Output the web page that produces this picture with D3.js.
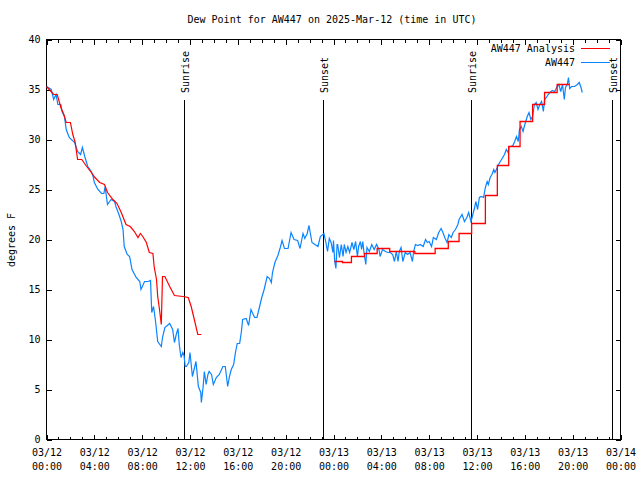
<!DOCTYPE html>
<html><head><meta charset="utf-8">
<script src="https://cdn.jsdelivr.net/npm/d3@7"></script>
<style>
body{margin:0;background:#fff}
svg{display:block}
text{font-family:"DejaVu Sans Mono",monospace;font-size:10px;fill:#000}
</style></head><body>
<svg id="c" width="640" height="480"></svg>
<script>
// ---- data (hours after 2025-03-12 00:00 UTC, dew point in °F) ----
const titleText = "Dew Point for AW447 on 2025-Mar-12 (time in UTC)";
const yLabel = "degrees F";
const seriesNames = ["AW447 Analysis", "AW447"];
const yTicks = [0, 5, 10, 15, 20, 25, 30, 35, 40];

const obsHours = [0.0,0.4,0.6,0.8,0.95,1.2,1.3,1.5,1.65,1.9,2.35,2.6,2.85,3.0,3.2,3.45,3.75,3.9,4.0,4.3,4.6,4.8,4.9,5.1,5.4,5.7,5.8,6.0,6.25,6.4,6.5,6.75,6.95,7.15,7.5,7.8,7.9,8.05,8.2,8.5,8.7,8.8,8.95,9.1,9.3,9.6,9.7,9.9,10.3,10.55,10.7,10.85,11.0,11.1,11.25,11.4,11.5,11.6,11.7,11.9,12.0,12.2,12.5,12.7,12.9,12.95,13.1,13.2,13.35,13.5,13.6,13.8,13.95,14.2,14.45,14.75,14.95,15.15,15.3,15.45,15.65,15.8,15.95,16.15,16.3,16.4,16.7,16.9,17.1,17.4,17.6,17.8,18.0,18.2,18.45,18.65,18.8,18.9,19.1,19.35,19.55,19.7,19.9,20.2,20.45,20.7,21.0,21.2,21.45,21.6,21.8,21.95,22.2,22.45,22.7,22.9,23.2,23.35,23.5,23.65,23.8,23.95,24.0,24.1,24.2,24.3,24.35,24.5,24.65,24.8,24.9,25.05,25.2,25.35,25.55,25.7,25.85,26.0,26.1,26.25,26.35,26.45,26.55,26.7,26.8,27.0,27.2,27.4,27.6,27.8,27.9,28.1,28.35,28.55,28.75,28.95,29.1,29.25,29.4,29.5,29.65,29.8,30.0,30.2,30.4,30.6,30.7,30.85,31.05,31.25,31.5,31.7,31.85,32.0,32.2,32.35,32.6,32.8,33.0,33.15,33.3,33.5,33.65,33.85,34.0,34.2,34.4,34.5,34.75,34.95,35.15,35.3,35.5,35.65,35.8,35.9,36.05,36.2,36.35,36.55,36.7,36.85,36.95,37.1,37.25,37.4,37.5,37.7,37.8,37.95,38.15,38.3,38.45,38.6,38.7,38.85,39.0,39.15,39.3,39.45,39.55,39.7,39.85,40.0,40.2,40.35,40.5,40.65,40.8,40.95,41.1,41.25,41.4,41.55,41.65,41.8,41.95,42.1,42.3,42.5,42.7,42.85,43.0,43.15,43.3,43.4,43.55,43.65,43.75,43.9,44.15,44.4,44.55,44.7,44.8];
const obsValues = [35.3,35.0,34.0,34.5,33.5,33.5,32.8,32.3,31.0,30.2,29.7,28.8,28.5,29.2,28.3,27.3,26.8,26.3,25.7,25.0,24.6,24.6,25.3,23.5,24.0,23.8,23.3,22.7,21.8,21.0,19.3,18.5,18.3,17.0,16.2,15.8,15.0,15.4,15.8,15.8,15.9,12.7,13.3,12.0,9.8,9.3,10.2,11.2,11.6,11.0,9.7,10.5,11.1,9.5,8.2,8.7,8.4,7.3,7.3,7.7,8.7,6.3,7.8,5.3,4.7,3.7,5.3,6.8,5.5,6.5,6.8,6.5,5.5,6.2,6.5,7.3,7.3,5.3,6.3,7.0,7.5,8.7,9.6,9.6,10.8,12.0,12.1,11.4,13.0,12.2,12.2,13.2,14.2,15.0,16.3,16.1,15.7,16.7,17.7,18.4,19.2,19.9,19.1,19.1,20.7,20.0,19.9,19.1,20.6,20.1,20.6,21.4,19.7,19.5,19.3,20.3,20.6,19.8,18.8,20.1,19.7,18.7,19.9,17.8,17.1,19.5,19.5,18.2,19.5,18.3,19.5,18.7,19.3,18.7,19.7,19.0,19.8,18.3,19.3,19.8,19.0,19.8,18.7,17.5,19.2,18.8,19.5,19.0,19.5,19.0,18.3,19.0,18.8,18.7,18.7,18.5,17.8,18.8,17.8,18.8,19.2,17.8,18.7,18.5,18.7,17.8,18.8,19.5,19.4,19.5,19.3,20.0,19.7,19.8,19.3,20.2,20.0,20.7,21.1,20.7,20.2,19.7,20.5,20.2,20.7,21.0,21.5,22.0,22.5,21.8,22.2,22.7,21.8,22.5,23.2,23.8,23.0,24.2,24.3,24.2,25.2,25.8,25.5,26.2,26.5,27.0,26.7,27.2,27.5,27.8,28.2,28.5,29.0,28.7,29.3,29.3,29.4,29.8,30.3,29.8,31.0,31.3,30.8,31.5,32.3,32.7,32.0,32.3,33.5,33.7,33.0,33.5,33.8,32.8,34.0,34.2,34.5,34.7,34.9,34.8,35.3,35.5,34.8,35.5,34.0,35.2,35.5,36.2,35.1,35.3,35.3,35.5,35.7,35.2,34.7];

// Analysis, first run (line)
const anaHours1 = [0.0,0.6,0.9,1.2,1.45,1.65,2.0,2.2,2.4,2.6,2.95,3.3,3.75,4.05,4.45,4.85,5.1,5.55,5.9,6.25,6.65,7.0,7.35,7.65,7.85,8.05,8.35,8.6,8.9,9.0,9.2,9.3,9.45,9.6,9.7,9.9,10.3,10.7,11.4,11.85,12.1,12.4,12.65,12.95];
const anaValues1 = [35.3,34.5,34.5,33.2,32.5,31.7,31.7,30.5,29.7,28.0,28.0,27.4,26.7,26.2,25.7,25.5,24.7,24.0,23.6,22.7,21.5,21.3,20.8,20.2,20.6,20.3,19.7,18.7,18.6,17.3,16.0,14.3,13.0,11.5,16.3,16.3,15.3,14.4,14.3,14.2,13.3,11.8,10.5,10.5];
// Analysis, second run (steps)
const anaHours2 = [24.08,24.75,25.5,26.6,27.65,28.7,30.8,32.5,33.6,34.5,35.55,36.7,37.7,38.65,39.6,40.65,41.65,42.7,43.75];
const anaValues2 = [17.8,17.7,18.3,18.6,19.1,18.8,18.6,19.1,19.8,20.6,21.6,24.4,27.4,29.3,31.8,33.5,34.7,35.5,35.5];

// Sun events
const sunLabels = ["Sunrise", "Sunset", "Sunrise", "Sunset"];
const sunHours = [11.54, 23.16, 35.54, 47.25];

// ---- drawing ----
const t0 = Date.UTC(2025, 2, 12);
const toDate = h => new Date(t0 + h * 3600000);

const svg = d3.select("#c");
const L = 46.5, R = 620.5, T = 39.5, B = 439.5;
const x = d3.scaleUtc().domain([toDate(0), toDate(48)]).range([L, R]);
const y = d3.scaleLinear().domain([0, 40]).range([B, T]);

// title
svg.append("text").attr("x", 332).attr("y", 19).attr("text-anchor", "middle")
  .attr("dominant-baseline", "central").text(titleText);
// y label
svg.append("text").attr("transform", "translate(11,240) rotate(-90)")
  .attr("text-anchor", "middle").attr("dominant-baseline", "central").text(yLabel);

// axes
const fmtD = d3.utcFormat("%m/%d"), fmtT = d3.utcFormat("%H:%M");
const minor = d3.utcHour.every(1), major = d3.utcHour.every(4);

svg.append("g").attr("transform", `translate(0,${B})`)
  .call(d3.axisBottom(x).ticks(minor).tickSize(-3).tickFormat(""));
const gx = svg.append("g").attr("transform", `translate(0,${B})`)
  .call(d3.axisBottom(x).ticks(major).tickSize(-5).tickPadding(9).tickFormat(""));
gx.selectAll(".tick text").each(function(d) {
  const t = d3.select(this);
  t.append("tspan").attr("x", 0).text(fmtD(d));
  t.append("tspan").attr("x", 0).attr("dy", "1.45em").text(fmtT(d));
});
svg.append("g").attr("transform", `translate(0,${T})`)
  .call(d3.axisTop(x).ticks(minor).tickSize(-3).tickFormat(""));
svg.append("g").attr("transform", `translate(0,${T})`)
  .call(d3.axisTop(x).ticks(major).tickSize(-5).tickFormat(""));
svg.append("g").attr("transform", `translate(${L},0)`)
  .call(d3.axisLeft(y).tickValues(yTicks).tickSize(-5).tickPadding(6).tickFormat(d3.format("d")));
svg.append("g").attr("transform", `translate(${R},0)`)
  .call(d3.axisRight(y).tickValues(yTicks).tickSize(-5).tickFormat(""));
svg.selectAll(".domain").remove();
svg.selectAll(".tick line").attr("stroke", "#000").attr("shape-rendering", "crispEdges");
svg.selectAll(".tick text").attr("font-family", null).attr("font-size", null).attr("fill", "#000");

// frame
svg.append("rect").attr("x", L).attr("y", T).attr("width", R - L).attr("height", B - T)
  .attr("fill", "none").attr("stroke", "#000").attr("shape-rendering", "crispEdges");

// sun lines
sunHours.forEach((h, i) => {
  const xx = Math.round(x(toDate(h))) + 0.5;
  svg.append("line").attr("x1", xx).attr("x2", xx).attr("y1", 100).attr("y2", B)
    .attr("stroke", "#000").attr("stroke-width", 1.3).attr("shape-rendering", "crispEdges");
  svg.append("text").attr("transform", `translate(${xx + 4.5},93) rotate(-90)`)
    .attr("text-anchor", "start").text(sunLabels[i]);
});

// series
const lineLin = d3.line().x(d => x(toDate(d[0]))).y(d => y(d[1]));
const lineStep = d3.line().x(d => x(toDate(d[0]))).y(d => y(d[1])).curve(d3.curveStepAfter);
const red = "#ff0000", blue = "#0a84ff";

svg.append("path").datum(obsHours.map((h, i) => [h, obsValues[i]]))
  .attr("d", lineLin).attr("fill", "none").attr("stroke", blue).attr("stroke-width", 1.2);
svg.append("path").datum(anaHours1.map((h, i) => [h, anaValues1[i]]))
  .attr("d", lineLin).attr("fill", "none").attr("stroke", red).attr("stroke-width", 1.2);
svg.append("path").datum(anaHours2.map((h, i) => [h, anaValues2[i]]))
  .attr("d", lineStep).attr("fill", "none").attr("stroke", red).attr("stroke-width", 1.3);

// legend
const legColors = [red, blue];
seriesNames.forEach((n, i) => {
  const yy = 48.5 + i * 14;
  svg.append("text").attr("x", 575).attr("y", yy).attr("text-anchor", "end")
    .attr("dominant-baseline", "central").text(n);
  svg.append("line").attr("x1", 581).attr("x2", 610).attr("y1", yy).attr("y2", yy)
    .attr("stroke", legColors[i]).attr("stroke-width", 1).attr("shape-rendering", "crispEdges");
});
</script></body></html>
